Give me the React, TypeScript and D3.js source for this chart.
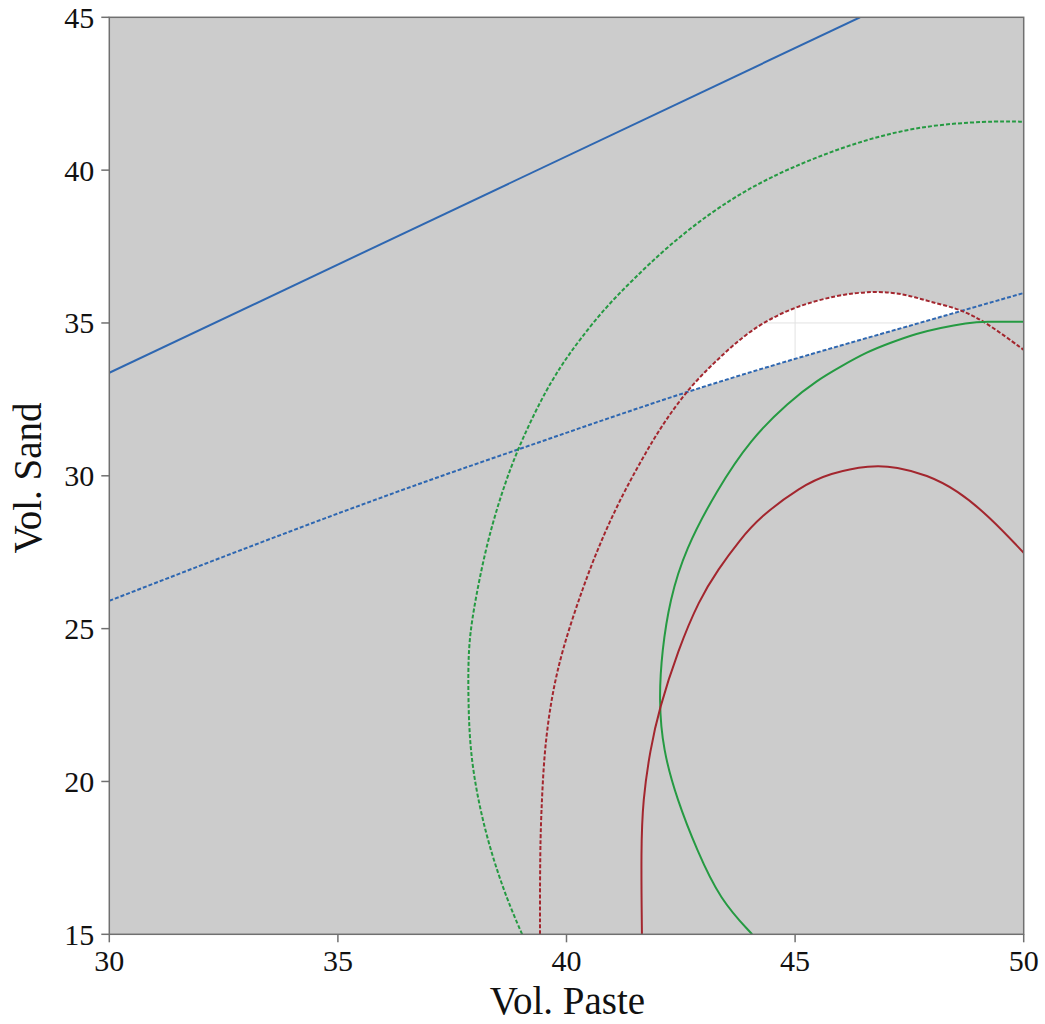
import React from 'react';
import * as d3 from 'd3';

type P = [number, number];

const xDomain: P = [30, 50];
const yDomain: P = [15, 45];
const xTicks = [30, 35, 40, 45, 50];
const yTicks = [15, 20, 25, 30, 35, 40, 45];
const xLabel = 'Vol. Paste';
const yLabel = 'Vol. Sand';

const blueSolid: P[] = [[30, 33.37], [46.42, 45.0]];
const blueDashed: P[] = [[30, 25.91], [37.45, 30.09], [38.92, 30.85], [42.64, 32.74], [48.72, 35.43], [50, 35.98]];

const greenDashed: P[] = [
  [39.03, 15.0], [38.7, 16.13], [38.33, 17.76], [38.06, 19.4], [37.89, 21.03], [37.85, 22.67],
  [37.85, 24.3], [37.95, 25.51], [38.22, 27.57], [38.55, 29.31], [38.92, 30.85], [39.46, 32.55],
  [39.86, 33.56], [40.28, 34.44], [40.86, 35.52], [41.45, 36.41], [42.2, 37.49], [43.14, 38.6],
  [44.01, 39.42], [44.89, 40.07], [45.98, 40.72], [47.08, 41.22], [48.17, 41.51], [49.48, 41.61],
  [50.0, 41.58],
];

const redDashed: P[] = [
  [39.42, 15.0], [39.42, 17.76], [39.46, 19.4], [39.52, 21.03], [39.66, 22.67], [39.9, 24.3],
  [40.36, 26.36], [40.76, 27.9], [41.24, 29.44], [41.8, 30.94], [42.17, 31.83], [42.7, 32.91],
  [43.29, 33.79], [44.01, 34.77], [44.89, 35.49], [45.92, 35.92], [46.75, 36.05], [47.4, 35.95],
  [47.95, 35.69], [48.61, 35.46], [49.2, 35.0], [50.0, 34.12],
];

const greenSolid: P[] = [
  [44.06, 15.0], [43.36, 16.13], [42.85, 17.76], [42.42, 19.4], [42.11, 21.03], [42.02, 22.67],
  [42.09, 24.3], [42.26, 25.94], [42.59, 27.57], [43.29, 29.54], [44.03, 31.2], [44.86, 32.42],
  [45.5, 33.14], [45.98, 33.56], [46.57, 34.05], [47.08, 34.35], [47.67, 34.66], [48.17, 34.84],
  [48.76, 35.0], [49.15, 35.05], [50.0, 35.04],
];

const redSolid: P[] = [
  [41.65, 15.0], [41.63, 17.76], [41.67, 19.4], [41.83, 21.03], [42.02, 22.34], [42.44, 24.3],
  [42.9, 25.94], [43.32, 26.95], [43.79, 27.9], [44.23, 28.65], [45.11, 29.64], [45.76, 30.09],
  [46.64, 30.35], [47.23, 30.29], [47.88, 30.03], [48.54, 29.54], [49.26, 28.65], [50.0, 27.48],
];

const BLUE = '#2e67b1';
const GREEN = '#259a42';
const RED = '#a3262e';

export default function App() {
  const W = 1045;
  const H = 1024;
  const left = 109.3, right = 1023.7, top = 17.3, bottom = 934.3;
  const x = d3.scaleLinear().domain(xDomain).range([left, right]);
  const y = d3.scaleLinear().domain(yDomain).range([bottom, top]);
  const contour = d3.line<P>().x(d => x(d[0])).y(d => y(d[1])).curve(d3.curveBasis);
  const mono = d3.line<P>().x(d => x(d[0])).y(d => y(d[1])).curve(d3.curveMonotoneX);
  const straight = d3.line<P>().x(d => x(d[0])).y(d => y(d[1]));

  const [x0, x1] = xDomain;
  const [y0, y1] = yDomain;
  // region above the blue dashed constraint
  const aboveBlue = (mono(blueDashed) || '') + `L${x(x1)},${y(y1)}L${x(x0)},${y(y1)}Z`;
  // region below / right of the red dashed constraint
  const belowRed = (contour(redDashed) || '') + `L${x(x1)},${y(y0)}Z`;

  const tickFont = 30;
  const font = '"Liberation Serif", "Times New Roman", serif';
  const axisColor = '#707070';

  return (
    <svg width={W} height={H} style={{ position: 'absolute', left: 0, top: 0 }} fontFamily={font}>
      <defs>
        <clipPath id="plot">
          <rect x={left} y={top} width={right - left} height={bottom - top} />
        </clipPath>
        <clipPath id="aboveBlue">
          <path d={aboveBlue} />
        </clipPath>
        <clipPath id="belowRed">
          <path d={belowRed} />
        </clipPath>
      </defs>
      <rect x={0} y={0} width={W} height={H} fill="#fff" />
      <rect x={left} y={top} width={right - left} height={bottom - top} fill="#cccccc" />
      <g clipPath="url(#aboveBlue)">
        <g clipPath="url(#belowRed)">
          <rect x={left} y={top} width={right - left} height={bottom - top} fill="#ffffff" />
          <g stroke="#e2e2e2" strokeWidth={1}>
            {xTicks.map(t => <line key={'gx' + t} x1={x(t)} x2={x(t)} y1={top} y2={bottom} />)}
            {yTicks.map(t => <line key={'gy' + t} x1={left} x2={right} y1={y(t)} y2={y(t)} />)}
          </g>
        </g>
      </g>
      <g clipPath="url(#plot)" fill="none" strokeWidth={2}>
        <path d={straight(blueSolid) || ''} stroke={BLUE} />
        <path d={mono(blueDashed) || ''} stroke={BLUE} strokeDasharray="4,2" />
        <path d={contour(greenDashed) || ''} stroke={GREEN} strokeDasharray="4,2" />
        <path d={contour(redDashed) || ''} stroke={RED} strokeDasharray="4,2" />
        <path d={contour(greenSolid) || ''} stroke={GREEN} />
        <path d={contour(redSolid) || ''} stroke={RED} />
      </g>
      <rect x={left} y={top} width={right - left} height={bottom - top} fill="none" stroke={axisColor} strokeWidth={1.5} />
      <g>
        {xTicks.map(t => (
          <g key={'xt' + t}>
            <line x1={x(t)} x2={x(t)} y1={bottom} y2={bottom + 8} stroke={axisColor} strokeWidth={1.5} />
            <text x={x(t)} y={bottom + 37} textAnchor="middle" fontSize={tickFont} fill="#111">{t}</text>
          </g>
        ))}
        {yTicks.map(t => (
          <g key={'yt' + t}>
            <line x1={left - 8} x2={left} y1={y(t)} y2={y(t)} stroke={axisColor} strokeWidth={1.5} />
            <text x={left - 15} y={y(t)} dy="0.35em" textAnchor="end" fontSize={tickFont} fill="#111">{t}</text>
          </g>
        ))}
      </g>
      <text x={(left + right) / 2 + 1} y={1014} textAnchor="middle" fontSize={39} fill="#111">{xLabel}</text>
      <text transform={`translate(41, 478) rotate(-90)`} textAnchor="middle" fontSize={39} fill="#111">{yLabel}</text>
    </svg>
  );
}
